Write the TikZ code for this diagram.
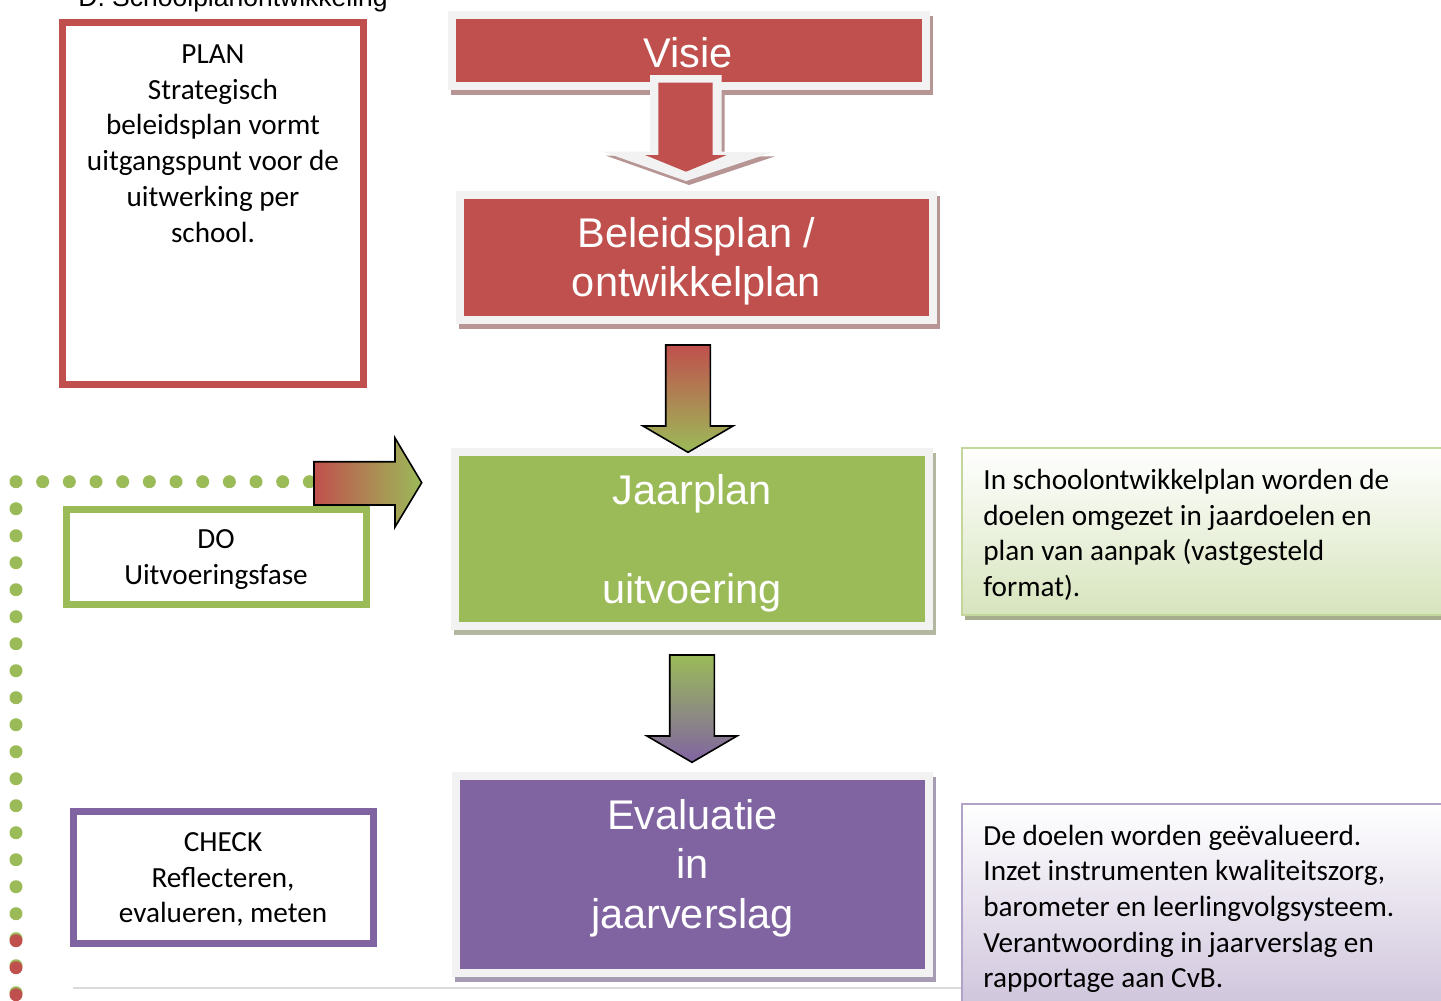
\documentclass[tikz,border=0pt]{standalone}
\usepackage{fontspec}
\setmainfont{Carlito}
\newfontfamily\arialfont{Liberation Sans}
\usetikzlibrary{fit}

\definecolor{cvred}{HTML}{C0504D}
\definecolor{cvgreen}{HTML}{9BBB59}
\definecolor{cvpurple}{HTML}{8064A2}
\definecolor{framegrey}{HTML}{F2F2F2}
\definecolor{redshadow}{HTML}{B79595}
\definecolor{greenshadow}{HTML}{B1B89F}
\definecolor{purpleshadow}{HTML}{A59CB3}
\definecolor{notegreen}{HTML}{D7E4BD}
\definecolor{notegreenline}{HTML}{C3D69B}
\definecolor{notegreenshadow}{HTML}{A5AD8E}
\definecolor{notepurple}{HTML}{CCC1DA}
\definecolor{notepurpleline}{HTML}{B3A2C7}
\definecolor{rulegrey}{HTML}{D9D9D9}

\tikzset{
  stagebox/.style 2 args={fill=#1, draw=framegrey, line width=4pt, inner sep=0pt,
    preaction={draw=#2, fill=#2, line width=4pt,
      transform canvas={xshift=1.5pt, yshift=-2.5pt}}},
  phasebox/.style={draw=#1, line width=3.3pt, fill=white, inner sep=0pt},
  notebox/.style 2 args={draw=#2, line width=1pt, top color=white, bottom color=#1, inner sep=0pt},
  stagetext/.style={font=\arialfont\fontsize{20.75}{24.75}\selectfont, text=white,
    align=center, anchor=north, inner sep=0pt},
  phasetext/.style={font=\fontsize{14.6}{17.85}\selectfont, align=center,
    anchor=north, inner sep=0pt},
  notetext/.style={font=\fontsize{14.6}{17.8}\selectfont, align=left,
    anchor=north west, inner sep=0pt},
  blockarrow/.style={draw=black, line width=0.8pt},
  pics/downarrow/.style 2 args={code={
    \path[blockarrow, top color=#1, bottom color=#2]
      (-22.3,0) -- (22.3,0) -- (22.3,81) -- (45,81) -- (0,107.3)
      -- (-45,81) -- (-22.3,81) -- cycle;}},
  dot/.style={radius=3.25pt}
}

\begin{document}
\begin{tikzpicture}[x=0.5pt, y=-0.5pt]
\clip (0,0) rectangle (1441,1001);
\fill[white] (0,0) rectangle (1441,1001);

% heading, partly above the page edge
\node[font=\arialfont\fontsize{13.25}{15}\selectfont, anchor=base west, inner sep=0pt]
  (heading) at (78,6) {D. Schoolplanontwikkeling};

% thin rule along the bottom
\draw[rulegrey, line width=1pt] (73,988) coordinate (ruleL) -- (962,988) coordinate (ruleR);

% dotted cycle line on the left
\foreach \k in {0,...,11}
  \fill[cvgreen] (16+26.67*\k, 481.7) circle[dot];
\foreach \k in {1,...,16}
  \fill[cvgreen] (16, 481.7+27*\k) circle[dot];
\foreach \k in {17,18,19} {
  \fill[cvgreen] (16, 479.7+27*\k) circle[dot];
  \fill[cvred] (16, 481.7+27*\k) circle[dot];
}

% PDCA phase boxes
\node[phasebox=cvred, fit={(62.7,22.3) (363.7,384.7)}] (plan) {};
\node[phasetext] (plantext) at (213,38.2)
  {\strut PLAN\\Strategisch\\beleidsplan vormt\\uitgangspunt voor de\\uitwerking per\\school.};

\node[phasebox=cvgreen, fit={(66.7,509.3) (366.7,604.7)}] (do) {};
\node[phasetext] (dotext) at (216,523.2) {\strut DO\\Uitvoeringsfase};

\node[phasebox=cvpurple, fit={(73.3,811.3) (373.3,943.3)}] (check) {};
\node[phasetext] (checktext) at (223,826) {\strut CHECK\\Reflecteren,\\evalueren, meten};

% main stages
\node[stagebox={cvred}{redshadow}, fit={(452,15) (925.5,86)}] (visie) {};
\node[stagetext] (visietext) at (688,32.4) {\strut Visie};

\node[stagebox={cvred}{redshadow}, fit={(460,195) (933,320)}] (beleid) {};
\node[stagetext] (beleidtext) at (696.5,212) {\strut Beleidsplan /\\ontwikkelplan};

\node[stagebox={cvgreen}{greenshadow}, fit={(455,452) (929,626)}] (jaar) {};
\node[stagetext] (jaartext) at (692,469.4) {\strut Jaarplan\\\mbox{}\\uitvoering};

\node[stagebox={cvpurple}{purpleshadow}, fit={(456,775.5) (929,973)}] (eval) {};
\node[stagetext] (evaltext) at (692.5,794.4) {\strut Evaluatie\\in\\jaarverslag};

% notes on the right
\node[notebox={notegreen}{notegreenline}, fit={(962,448) (1470,615)},
  preaction={fill=notegreenshadow, transform canvas={xshift=1.5pt, yshift=-2.5pt}}] (note1) {};
\node[notetext] (note1text) at (983,464.2)
  {\strut In schoolontwikkelplan worden de\\doelen omgezet in jaardoelen en\\plan van aanpak (vastgesteld\\format).};

\node[notebox={notepurple}{notepurpleline}, fit={(962,804) (1470,1020)}] (note2) {};
\node[notetext] (note2text) at (983,820)
  {\strut De doelen worden geëvalueerd.\\Inzet instrumenten kwaliteitszorg,\\barometer en leerlingvolgsysteem.\\Verantwoording in jaarverslag en\\rapportage aan CvB.};

% arrow from Visie to Beleidsplan: shadow, light frame, red body
\fill[redshadow] (653,93) -- (724.7,93) -- (724.7,155.7) -- (774.7,156.5)
  -- (689,185) -- (606,155.7) -- (653,155.7) -- cycle;
\fill[framegrey] (650,75) -- (721.7,75) -- (721.7,151.7) -- (771.7,152.5)
  -- (686,181) -- (603,151.7) -- (650,151.7) -- cycle;
\fill[cvred] (658.3,82.7) -- (712.7,82.7) -- (712.7,155) -- (726.7,155)
  -- (686,171.7) -- (645,155) -- (658.3,155) -- cycle;

% downward arrows between the stages
\pic at (688,345) {downarrow={cvred}{cvgreen}};
\pic at (692,655) {downarrow={cvgreen}{cvpurple}};

% arrow from the dotted line into the Jaarplan
\path[blockarrow, left color=cvred, right color=cvgreen]
  (314,461.7) -- (395,461.7) -- (395,438) -- (421.7,482.7) -- (395,527)
  -- (395,505) -- (314,505) -- cycle;
\end{tikzpicture}
\end{document}
